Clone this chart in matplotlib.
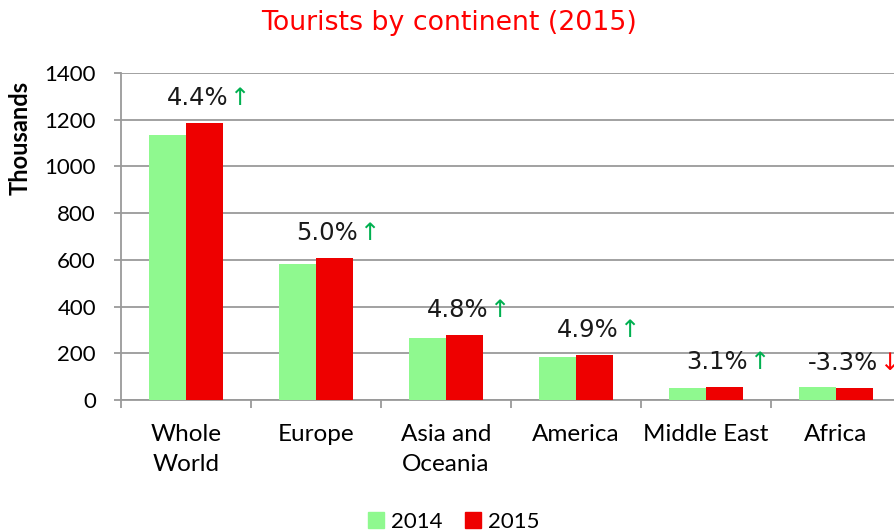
import numpy as np
import matplotlib.pyplot as plt
from matplotlib.patches import Patch

# datos (miles de turistas)
continentes = ['Whole\nWorld', 'Europe', 'Asia and\nOceania', 'America', 'Middle East', 'Africa']
turistas_2014 = [1134, 582, 266, 184, 53, 55]
turistas_2015 = [1184, 609, 278, 192, 55, 53]
variacion = ['4.4%', '5.0%', '4.8%', '4.9%', '3.1%', '-3.3%']

verde = '#8FF98F'
rojo = '#EE0000'
gris = '#9A9A9A'

fig = plt.figure(figsize=(8.94, 5.31), dpi=100)
ax = fig.add_axes([121 / 894, 131 / 531, 780 / 894, 327 / 531])

x = np.arange(len(continentes))
w = 0.285
ax.bar(x - w / 2, turistas_2014, w, color=verde, zorder=3)
ax.bar(x + w / 2, turistas_2015, w, color=rojo, zorder=3)

# etiquetas de variación con flecha
for i, (v, t) in enumerate(zip(variacion, turistas_2015)):
    sube = not v.startswith('-')
    ax.annotate(v, (x[i] + w / 2, t), xytext=(17, 18), textcoords='offset points',
                ha='right', va='center', fontsize=17.5, family='DejaVu Sans',
                color='#1a1a1a', zorder=4)
    ax.annotate('↑' if sube else '↓', (x[i] + w / 2, t), xytext=(17.5, 18),
                textcoords='offset points', ha='left', va='center', fontsize=17.5,
                family='DejaVu Sans', color='#00B050' if sube else '#FF0000', zorder=4)

ax.set_xlim(-0.5, len(continentes) - 0.5)
ax.set_ylim(0, 1400)
ax.set_yticks(range(0, 1401, 200))
ax.set_xticks(x)
ax.set_xticklabels(continentes, fontsize=17.5, family='Lato', linespacing=1.5)
ax.set_xticks(np.arange(-0.5, len(continentes)), minor=True)
ax.tick_params(axis='x', which='major', length=0, pad=17.5)
ax.tick_params(axis='x', which='minor', length=6, width=1.3, color=gris)
ax.tick_params(axis='y', length=5, width=1.3, color=gris, pad=13, labelsize=16)
for lab in ax.get_yticklabels():
    lab.set_family('Lato')

ax.grid(axis='y', color=gris, linewidth=1.3, zorder=0)
for s in ['top', 'right']:
    ax.spines[s].set_visible(False)
for s in ['left', 'bottom']:
    ax.spines[s].set_color(gris)
    ax.spines[s].set_linewidth(1.3)

fig.text(20 / 894, 1 - 138 / 531, 'Thousands', rotation=90, ha='center', va='center',
         fontsize=17, fontweight='bold', family='Lato')
fig.text(449 / 894, 1 - 23 / 531, 'Tourists by continent (2015)', ha='center', va='center',
         fontsize=19.3, color='#FF0000', family='DejaVu Sans')

handles = [Patch(color=verde, label='2014'), Patch(color=rojo, label='2015')]
fig.legend(handles=handles, loc='center', bbox_to_anchor=(454 / 894, 1 - 522 / 531), ncol=2,
           frameon=False, prop={'family': 'Lato', 'size': 16}, handlelength=0.7,
           handleheight=0.7, handletextpad=0.35, columnspacing=1.0)

fig.savefig('out.png', dpi=100)
